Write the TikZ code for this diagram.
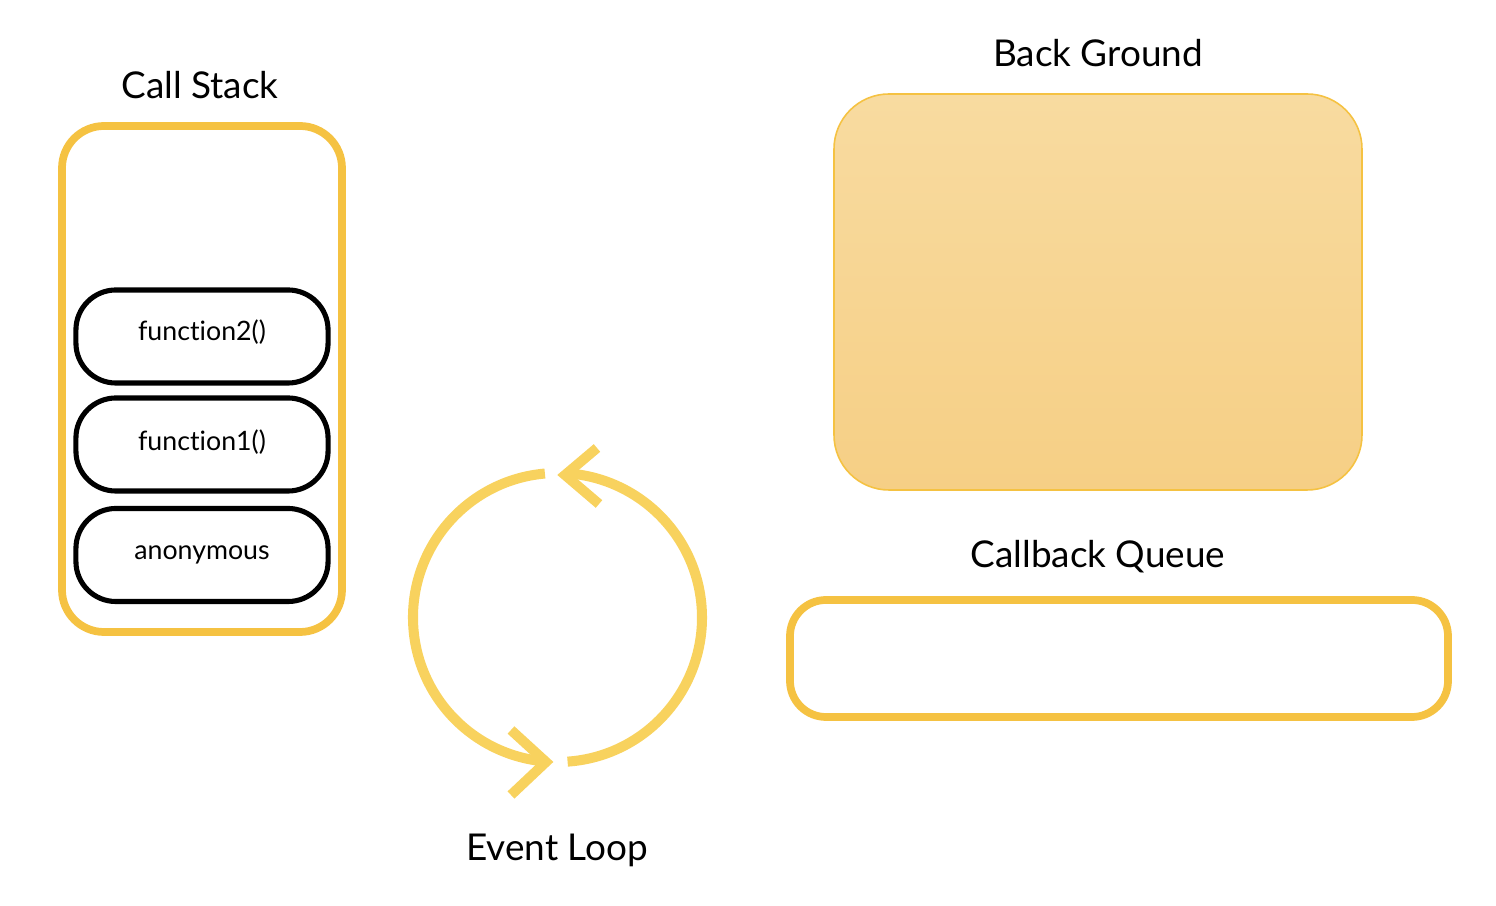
\documentclass[tikz,border=0pt]{standalone}
\usepackage{fontspec}
\setmainfont{Lato}[Ligatures={NoCommon,NoRequired}]
\usetikzlibrary{calc}
\definecolor{stackgold}{HTML}{F5C242}
\definecolor{loopgold}{HTML}{F8D25E}
\definecolor{bgtop}{HTML}{F8DBA0}
\definecolor{bgbot}{HTML}{F6CF85}
\begin{document}
\begin{tikzpicture}[x=0.01cm,y=0.01cm,
  title/.style={font=\fontsize{10.5pt}{12pt}\selectfont, inner sep=0pt},
  framebox/.style={draw=stackgold, line width=2.2pt, rounded corners=0.42cm},
  fnbox/.style={draw=black, line width=1.45pt, rounded corners=0.4cm,
    minimum width=2.52cm, minimum height=0.93cm, inner sep=0pt},
  fntext/.style={font=\fontsize{7.6pt}{9pt}\selectfont, inner sep=0pt},
  looparc/.style={draw=loopgold, line width=2.85pt},
]
\useasboundingbox (0,0) rectangle (1496,906);
% Call stack
\node[title] (cstitle) at (200,821) {Call Stack};
\draw[framebox] (62,274) rectangle (342,780);
\node[fnbox] (f2) at (202,569.5) {};
\node[fnbox] (f1) at (202,461.5) {};
\node[fnbox] (anon) at (202,351) {};
\node[fntext] (t2) at ([yshift=0.04cm]f2.center) {funct\kern0pt ion2()};
\node[fntext] (t1) at ([yshift=0.02cm]f1.center) {funct\kern0pt ion1()};
\node[fntext] (ta) at ([yshift=0.005cm]anon.center) {anonymous};
% Back ground
\node[title] (bgtitle) at (1098,853) {Back Ground};
\draw[draw=stackgold, line width=0.45pt, rounded corners=0.55cm, top color=bgtop, bottom color=bgbot]
  (834,416) rectangle (1362,812);
% Callback queue
\node[title] (cqtitle) at (1098,349) {Callback Queue};
\draw[framebox, rounded corners=0.36cm] (790,306) rectangle (1448,189);
% Event loop
\coordinate (lc) at (557.5,288.5);
\draw[looparc] ($(lc)+(95:144.5)$) arc[start angle=95, end angle=266, radius=144.5];
\draw[looparc] ($(lc)+(-86:144.5)$) arc[start angle=-86, end angle=87, radius=144.5];
\draw[looparc] (511,176) -- (546,144) -- (511,111);
\draw[looparc] (597,458) -- (565,431) -- (599,402);
\node[title] (eltitle) at (557,56) {Event Loop};
\end{tikzpicture}
\end{document}
